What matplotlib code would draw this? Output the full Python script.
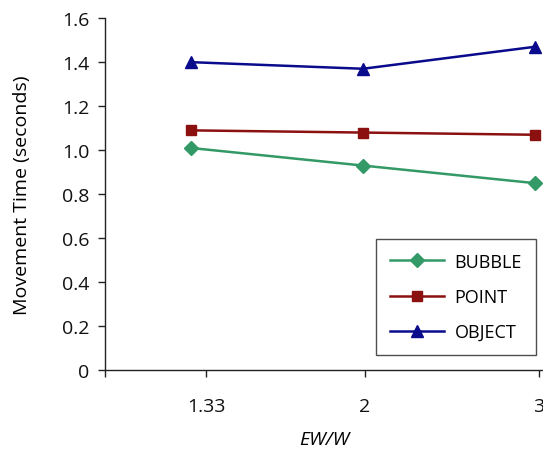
# imports
import matplotlib
matplotlib.use("Agg")
import matplotlib.pyplot as plt

plt.rcParams['font.family'] = ['Open Sans', 'DejaVu Sans']

# data
ew_labels = ["1.33", "2", "3"]
bubble = [1.01, 0.93, 0.85]
point = [1.09, 1.08, 1.07]
obj = [1.40, 1.37, 1.47]
y_ticks = [0, 0.2, 0.4, 0.6, 0.8, 1.0, 1.2, 1.4, 1.6]
y_tick_labels = ["0", "0.2", "0.4", "0.6", "0.8", "1.0", "1.2", "1.4", "1.6"]

x = list(range(len(ew_labels)))

fig = plt.figure(figsize=(5.43, 4.56), dpi=100)
ax = fig.add_axes([0.193, 0.186, 0.807, 0.772])

ax.plot(x, bubble, color="#339966", marker="D", markersize=7, lw=1.8,
        label="BUBBLE", clip_on=False)
ax.plot(x, point, color="#8B1010", marker="s", markersize=7, lw=1.8,
        label="POINT", clip_on=False)
ax.plot(x, obj, color="#0A0A8C", marker="^", markersize=9, lw=1.8,
        label="OBJECT", clip_on=False)

ax.set_xlim(-0.5, 2.046)
ax.set_ylim(0, 1.6)
ax.set_yticks(y_ticks)
ax.set_yticklabels(y_tick_labels)
# tick marks sit a bit off the points in the original
ax.set_xticks([-0.5, 0.09, 1.01, 2.02])
ax.set_xticklabels([""] + ew_labels)

for s in ["top", "right"]:
    ax.spines[s].set_visible(False)
for s in ["left", "bottom"]:
    ax.spines[s].set_linewidth(1.0)
    ax.spines[s].set_color("#222222")

ax.tick_params(axis="both", direction="out", length=5, width=1,
               colors="#222222", labelsize=14, labelcolor="#111111")
ax.tick_params(axis="x", pad=14)
ax.tick_params(axis="y", pad=6)

ax.set_ylabel("Movement Time (seconds)", fontsize=14, labelpad=22)
ax.set_xlabel("EW/W", fontsize=14, style="italic", labelpad=11)

leg = ax.legend(loc="upper left", bbox_to_anchor=(0.619, 0.372),
                frameon=True, fancybox=False, fontsize=13,
                handlelength=3.0, borderpad=0.75, labelspacing=0.95,
                handletextpad=0.6, borderaxespad=0)
leg.get_frame().set_edgecolor("#222222")
leg.get_frame().set_linewidth(1.0)

fig.savefig("out.png", dpi=100)
